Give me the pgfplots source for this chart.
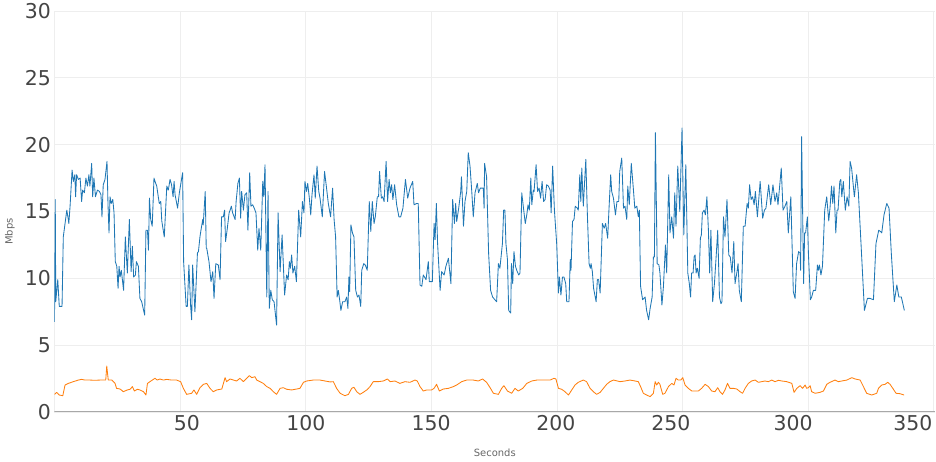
\documentclass[border=0pt]{standalone}
\usepackage{fontspec}
\setmainfont{DejaVu Sans}
\usepackage{pgfplots}
\pgfplotsset{compat=1.18}
\usepackage{pgfplotstable}
\definecolor{pblue}{HTML}{1F77B4}
\definecolor{porange}{HTML}{FF7F0E}
\definecolor{gridc}{HTML}{EEEEEE}
\definecolor{tickc}{HTML}{444444}
\definecolor{labc}{HTML}{666666}
\definecolor{zeroc}{HTML}{A8A8A8}

\pgfplotstableread{
x y
0 6.75
0.3 15.9
0.5 8.25
1.3 9.9
1.9 7.9
3.0 7.9
3.5 13.1
4.9 15.1
5.5 14.4
5.7 14.1
6.2 15.4
7.0 18.1
7.5 17.25
8.1 17.75
8.4 16.1
8.8 17.75
9.5 17.4
10.2 17.5
10.8 15.75
11.2 16.6
11.9 16.4
12.5 17.5
13.1 16.9
13.7 17.75
14.1 16.9
14.8 18.6
15.2 16.1
15.7 17.5
16.3 16.1
17.1 16.6
17.9 16.5
18.5 16.25
18.9 14.6
19.4 17.0
20.1 17.4
20.9 18.75
21.3 15.5
21.7 13.4
22.1 16.1
22.6 15.6
23.2 15.9
23.7 14.9
24.2 11.25
24.8 10.9
25.3 9.25
25.7 10.9
26.1 10.1
26.6 10.6
27.5 9.1
28.2 13.1
29.0 10.4
29.8 14.4
30.5 10.5
31.0 12.4
31.5 10.1
32.2 10.25
32.6 11.25
33.4 10.9
34.0 8.5
34.7 8.25
35.9 7.25
36.4 13.6
37.0 13.6
37.4 12.1
37.8 16.0
38.3 14.4
38.9 13.9
39.6 17.5
40.3 17.1
40.7 16.9
41.7 15.6
42.3 15.75
42.7 14.3
43.7 13.1
44.7 16.9
45.3 16.6
46.0 17.4
46.6 17.0
47.2 16.1
47.6 17.25
48.0 16.25
49.0 15.25
49.7 16.4
51.0 17.9
51.4 11.25
52.4 7.9
52.9 7.9
53.5 11.0
54.2 7.9
54.6 6.9
55.0 11.0
55.9 7.5
56.9 11.9
57.3 12.0
57.9 13.1
58.3 13.6
59.0 14.4
59.2 14.0
60.0 16.5
60.4 12.25
60.6 12.25
61.5 11.25
62.3 9.75
63.0 10.5
63.5 8.5
64.2 11.1
65.2 11.0
65.9 9.9
66.5 14.6
67.2 14.6
67.7 15.1
68.1 12.75
68.8 13.75
69.5 14.9
69.9 15.1
70.4 15.4
70.9 14.9
71.9 14.4
72.3 15.75
73.0 17.1
73.6 17.5
74.1 14.5
74.5 16.5
75.2 15.1
75.8 16.25
76.5 16.4
77.0 13.6
77.7 17.9
78.2 15.4
78.9 15.5
79.5 15.25
80.2 14.9
80.9 12.1
81.4 13.75
82.1 12.1
82.9 17.25
83.3 16.1
83.8 18.5
84.5 8.6
85.0 16.5
85.5 7.75
86.1 9.1
86.7 8.4
87.4 8.25
88.4 6.5
89.0 14.9
89.8 10.5
90.6 13.25
91.6 8.75
92.4 10.25
93.0 9.9
93.5 11.25
93.9 10.75
94.4 11.75
94.9 10.4
95.6 10.9
96.3 9.75
97.2 15.1
98.0 13.1
98.7 15.75
99.3 14.9
99.7 17.25
100.3 16.5
100.8 17.1
101.5 15.9
102.0 14.75
102.5 16.25
103.3 17.75
103.8 16.0
104.5 18.4
105.2 16.5
105.7 16.0
106.6 14.6
107.5 18.0
108.2 16.9
109.0 15.6
109.9 14.6
110.7 16.75
111.3 14.4
111.9 13.1
112.5 8.6
113.0 9.1
113.6 8.25
114.0 7.6
114.7 8.25
115.6 8.25
116.3 8.6
116.8 7.75
117.2 10.1
117.5 9.0
118.0 14.0
118.6 13.4
119.2 13.1
119.9 9.1
120.6 8.6
121.2 8.75
121.9 7.9
122.3 10.6
123.1 11.1
123.7 11.0
124.5 10.6
125.3 15.75
125.9 13.5
126.5 15.75
127.2 14.1
127.7 14.6
128.5 16.1
129.0 16.1
129.4 18.0
130.1 16.0
130.6 16.1
131.2 15.75
132.0 18.75
132.6 15.75
133.2 17.4
133.7 16.4
134.2 17.0
134.7 15.9
135.4 17.0
136.2 15.5
137.1 14.6
137.8 14.6
138.7 15.25
139.7 17.4
140.6 16.0
141.5 16.75
142.6 17.25
143.1 15.5
144.2 15.6
144.8 15.6
145.5 9.5
146.2 9.4
146.8 10.25
147.9 9.9
148.8 11.25
149.2 9.75
150.4 9.75
151.1 14.1
151.5 12.9
152.0 15.6
152.5 12.6
153.5 9.1
154.1 10.5
155.1 10.25
155.8 10.9
156.8 11.5
157.8 9.6
158.5 15.9
159.2 14.1
159.7 15.6
160.1 14.25
160.9 15.25
161.7 16.5
162.0 17.6
162.8 13.9
163.4 15.75
164.1 16.5
164.7 19.4
165.4 18.4
166.1 16.5
166.7 14.6
167.4 16.4
168.3 17.1
168.8 16.4
169.5 16.75
170.7 16.75
171.0 15.25
171.2 18.6
172.0 17.6
172.8 11.9
173.6 9.1
174.4 8.6
175.3 8.4
176.0 8.25
176.7 11.1
177.3 10.75
178.3 12.6
178.8 15.1
179.3 15.1
179.7 12.6
180.3 11.4
180.8 7.6
181.6 7.4
181.9 11.1
182.4 9.6
182.9 12.0
183.5 10.9
184.0 10.6
184.8 10.25
185.3 10.4
186.0 16.4
186.6 15.4
187.4 14.1
188.0 14.75
188.5 15.5
189.0 15.1
189.6 17.5
190.0 15.5
190.6 16.6
190.9 16.5
191.7 18.5
192.3 16.5
192.9 16.75
193.5 16.0
194.1 17.25
194.7 15.75
195.3 15.9
195.9 17.0
196.6 16.9
197.3 16.6
197.7 14.9
198.3 18.4
199.0 15.1
199.9 12.6
200.6 8.9
201.0 10.1
201.6 8.75
202.2 10.1
202.8 10.1
203.5 9.6
203.9 8.25
204.8 8.25
205.3 11.4
205.6 10.6
206.2 14.25
206.8 14.4
207.3 15.4
208.1 15.25
208.5 15.1
209.1 17.75
209.5 15.75
209.9 18.25
210.5 15.4
211.5 18.9
212.1 14.9
212.8 11.1
213.3 10.75
213.6 11.1
214.1 10.5
214.6 9.25
215.6 8.25
216.1 9.9
216.6 9.9
217.2 8.9
218.1 14.1
218.8 13.75
219.4 14.1
220.2 13.0
220.7 15.1
221.4 17.75
221.8 16.5
222.5 16.0
223.3 14.75
223.9 15.75
224.6 15.75
225.0 18.0
225.8 19.0
226.5 15.25
227.1 15.4
227.8 14.4
228.2 16.9
228.8 15.5
229.6 18.6
230.4 16.75
231.0 15.25
231.8 15.4
232.4 14.6
232.8 15.1
233.3 9.4
234.1 8.4
235.1 8.6
235.7 7.6
236.5 6.9
237.1 7.75
237.9 8.6
238.4 11.6
238.8 11.6
239.2 20.9
239.9 11.1
240.6 11.0
241.0 10.4
241.8 8.0
242.4 9.4
243.2 12.5
243.7 10.4
244.5 17.75
245.0 13.4
245.7 14.6
246.4 13.0
246.9 16.4
247.4 13.9
248.1 18.4
248.9 15.0
249.8 21.25
250.5 13.25
251.3 18.5
252.1 10.4
252.7 9.6
253.2 8.6
253.6 10.4
254.2 10.4
254.6 11.6
255.0 11.75
255.4 10.4
255.9 10.75
256.6 10.0
257.1 13.0
257.5 13.25
257.9 14.9
258.6 15.1
259.1 14.75
259.7 16.1
260.3 13.6
260.8 10.4
261.3 13.6
262.0 8.25
262.7 9.6
263.5 12.0
264.0 13.6
264.7 8.6
265.3 8.1
265.7 8.25
266.3 14.6
266.9 13.1
267.7 15.9
268.4 11.75
269.0 11.6
269.7 10.4
270.4 12.75
270.9 9.6
271.6 10.4
272.1 11.1
272.6 9.1
273.4 8.25
274.2 13.9
274.9 13.9
275.7 15.6
276.2 15.25
276.7 17.0
277.3 15.9
277.9 16.1
278.5 15.5
279.0 16.5
279.8 14.6
280.9 17.25
281.9 14.5
282.6 15.1
283.2 15.25
284.3 17.0
285.1 15.5
286.0 17.0
286.8 15.75
287.5 16.4
288.0 15.5
289.3 18.25
290.0 15.1
290.8 15.4
291.5 15.75
292.1 13.4
293.1 16.1
294.1 9.0
294.8 8.5
295.4 11.1
296.2 12.0
296.8 11.9
297.0 10.6
297.4 20.6
298.2 9.6
298.6 13.4
299.0 13.4
299.7 14.6
300.1 11.9
300.9 8.4
301.4 8.6
302.1 9.1
303.0 9.1
303.7 11.0
304.1 10.6
304.5 11.0
305.1 10.25
305.7 10.9
306.6 15.1
307.4 16.1
308.2 14.3
308.7 15.25
309.3 16.9
309.8 15.6
310.3 16.9
311.0 13.4
311.5 15.1
311.9 15.1
312.6 17.25
313.0 17.4
313.4 16.1
314.0 17.25
314.8 15.1
315.5 16.1
316.2 15.4
316.7 18.75
317.3 18.25
318.4 16.1
319.3 17.75
320.0 16.4
321.1 12.4
322.4 7.6
323.6 8.5
324.6 8.5
326.0 8.4
327.0 12.6
328.1 13.6
328.8 13.5
329.3 13.4
330.2 14.75
331.3 15.6
332.2 15.25
333.1 11.9
334.3 8.25
335.3 9.5
336.1 8.6
337.1 8.6
338.3 7.6
}\bluedata

\pgfplotstableread{
x y
0 1.32
0.9 1.47
1.9 1.27
3.3 1.22
4.2 2.02
5.5 2.14
7.5 2.27
9.5 2.39
10.8 2.44
12.1 2.39
14.1 2.39
16.1 2.37
18.1 2.39
20.4 2.39
20.8 3.44
21.4 2.39
22.8 2.39
24.1 2.14
24.7 1.77
26.1 1.72
27.4 1.52
29.0 1.65
30.1 1.70
31.0 1.90
31.8 1.57
33.0 1.70
34.0 1.65
35.4 1.52
36.4 1.27
37.0 2.14
38.4 2.32
40.0 2.52
40.9 2.39
42.0 2.47
43.3 2.39
44.7 2.44
46.6 2.39
48.6 2.39
50.2 2.27
51.3 1.77
52.6 1.32
54.6 1.40
55.5 1.65
56.6 1.32
57.9 1.82
59.3 2.07
60.6 2.14
61.9 1.77
63.2 1.52
64.6 1.65
66.6 1.72
67.9 2.57
68.5 2.27
69.9 2.47
71.2 2.39
72.5 2.32
73.8 2.52
75.2 2.27
76.5 2.52
77.6 2.72
78.5 2.57
79.8 2.64
80.5 2.39
81.8 2.27
83.1 2.14
84.5 1.90
85.8 1.77
87.1 1.52
88.4 1.32
89.8 1.77
91.1 1.82
92.4 1.70
94.4 1.65
96.4 1.72
97.7 1.77
99.1 2.22
100.4 2.32
103.0 2.39
105.7 2.39
107.7 2.32
109.7 2.25
111.0 2.27
112.3 1.77
113.7 1.40
115.6 1.22
117.0 1.32
118.3 1.77
119.2 1.85
120.3 1.52
121.6 1.32
122.9 1.47
124.3 1.65
125.6 1.90
126.9 2.27
128.9 2.27
130.9 2.32
132.5 2.47
133.6 2.27
135.5 2.32
137.5 2.14
139.5 2.27
141.5 2.22
143.5 2.39
144.4 2.32
145.5 1.90
146.8 1.57
148.2 1.65
150.1 1.65
151.1 1.77
152.1 2.07
153.2 1.57
154.8 1.72
156.8 1.77
158.8 1.90
160.1 2.02
162.1 2.27
164.1 2.39
166.7 2.39
168.7 2.32
170.4 2.47
172.0 2.22
173.4 1.82
174.7 1.40
176.7 1.32
178.0 1.77
178.9 1.97
180.3 1.57
182.0 1.40
183.3 1.77
184.6 1.57
186.4 1.77
188.0 2.14
190.0 2.32
192.0 2.39
194.6 2.39
197.3 2.39
198.8 2.52
199.6 2.47
200.6 1.77
201.9 1.70
203.2 1.52
204.6 1.27
205.9 1.65
207.2 2.02
208.5 2.22
210.5 2.39
211.8 2.27
213.2 1.77
214.5 1.52
215.8 1.32
217.2 1.47
218.5 1.77
219.8 2.07
221.1 2.27
222.5 2.39
225.1 2.27
227.1 2.32
229.1 2.39
231.1 2.32
232.4 2.27
233.3 1.90
234.4 1.40
235.7 1.27
237.1 1.15
238.4 1.40
239.1 2.27
239.7 2.02
240.4 2.22
241.0 2.07
242.1 1.32
243.0 1.40
244.4 1.90
245.7 2.14
246.6 2.02
247.4 2.52
248.3 2.39
249.3 2.39
250.1 2.57
251.0 2.02
252.3 1.77
253.7 1.57
255.0 1.57
256.3 1.57
257.6 1.77
259.0 2.07
260.3 1.90
261.6 1.57
262.9 1.52
264.0 1.82
264.9 1.52
265.9 1.32
266.9 1.65
267.9 2.14
268.9 1.77
270.2 1.77
271.6 1.72
272.9 1.52
273.9 1.40
274.9 1.77
276.2 2.14
277.5 2.32
278.9 2.39
280.2 2.22
281.5 2.27
282.8 2.32
284.2 2.27
285.5 2.39
286.8 2.27
288.2 2.37
289.5 2.32
291.5 2.27
293.5 2.14
294.4 1.47
295.5 1.77
296.8 1.97
297.8 1.77
298.8 2.02
299.4 1.77
300.1 1.82
300.8 1.97
301.4 1.52
302.8 1.40
304.7 1.47
306.1 1.57
307.4 2.07
308.7 2.22
310.7 2.39
312.0 2.27
313.4 2.32
315.4 2.39
317.4 2.57
318.7 2.47
320.7 2.39
322.0 1.90
323.3 1.40
325.3 1.27
327.3 1.40
328.0 1.77
329.3 2.02
330.6 2.07
331.7 2.22
332.6 2.07
333.7 1.77
335.0 1.40
336.6 1.37
338.2 1.27
}\orangedata

\begin{document}
\begin{tikzpicture}
\begin{axis}[
  name=ax,
  scale only axis,
  width=880.5bp, height=401bp,
  xmin=0, xmax=350.5, ymin=0, ymax=30,
  xtick={0,50,...,350},
  xticklabels={},
  extra x ticks={52.7,100.1,149.9,199.6,245.4,294.0,341.7},
  extra x tick labels={50,100,150,200,250,300,350},
  extra x tick style={grid=none},
  ytick={0,5,...,30},
  grid=major,
  major grid style={gridc, line width=0.8bp},
  major tick length=0pt,
  axis line style={draw=none},
  /pgf/number format/assume math mode=true,
  tick label style={font=\fontsize{20.5}{24}\selectfont, text=tickc},
  clip=true,
]
\addplot[pblue, line width=0.85bp, line join=round, mark=none] table[x=x, y=y] {\bluedata};
\addplot[porange, line width=0.85bp, line join=round, mark=none] table[x=x, y=y] {\orangedata};
\draw[zeroc, line width=1.6bp] (axis cs:0,0) -- (axis cs:350.5,0);
\end{axis}
\node[font=\fontsize{10}{12}\selectfont, text=labc, anchor=center] at ([yshift=-41bp]ax.south) {Seconds};
\node[font=\fontsize{10}{12}\selectfont, text=labc, anchor=center, rotate=90] at ([xshift=-44.5bp, yshift=-20bp]ax.west) {Mbps};
\pgfresetboundingbox
\path[use as bounding box] ([xshift=-54.5bp, yshift=-50bp]ax.south west) rectangle ([xshift=1bp, yshift=11bp]ax.north east);
\end{tikzpicture}
\end{document}
